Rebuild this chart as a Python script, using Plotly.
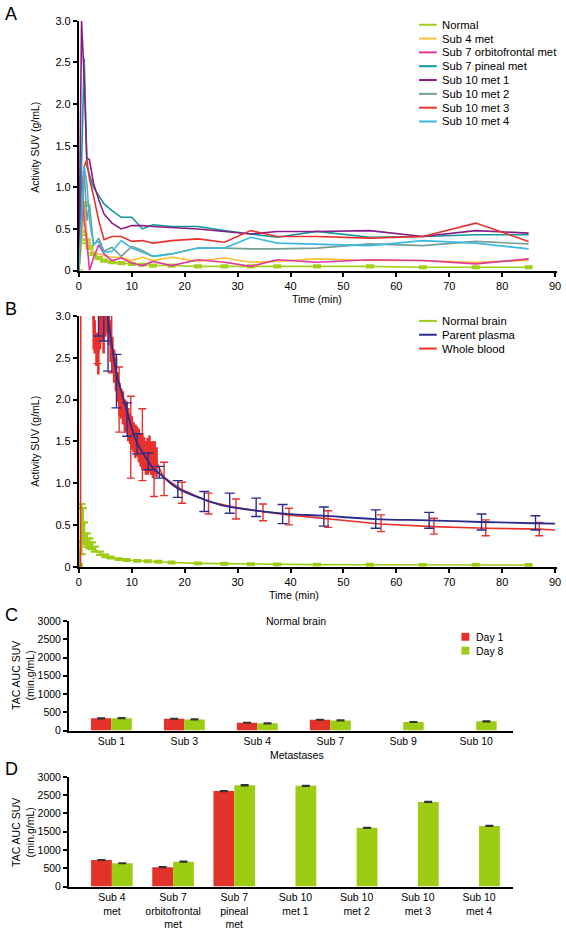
import plotly.graph_objects as go

W, H = 566, 934
FONT = "Liberation Sans, Arial, Helvetica, sans-serif"


def px(x):
    return x / W


def py(y):
    return 1 - y / H


# ---------------- Panel A data ----------------
t_a = [0, 0.5, 1, 1.5, 2, 2.75, 3.75, 4.75, 6.25, 8, 10, 12, 14, 17.5,
       22.5, 27.5, 32.5, 37.5, 45, 55, 65, 75, 85]
a_normal = [0, 0.45, 0.8, 0.35, 0.28, 0.2, 0.15, 0.12, 0.1, 0.09, 0.08, 0.07, 0.06, 0.06,
            0.05, 0.05, 0.05, 0.05, 0.05, 0.05, 0.04, 0.04, 0.04]
a_normal_err = [0, 0.02, 0.02, 0.02, 0.015, 0.01, 0.01, 0.01, 0.01, 0.01, 0.01, 0.01, 0.01, 0.01,
                0.01, 0.01, 0.01, 0.01, 0.01, 0.01, 0.01, 0.01, 0.01]
a_sub4 = [0, 0.3, 0.75, 0.45, 0.3, 0.22, 0.2, 0.18, 0.16, 0.16, 0.12, 0.16, 0.12, 0.16,
          0.11, 0.15, 0.10, 0.11, 0.14, 0.12, 0.12, 0.10, 0.12]
a_sub7_orb = [0, 1.2, 0.6, 0.35, 0.0, 0.15, 0.31, 0.2, 0.12, 0.15, 0.09, 0.06, 0.11, 0.06,
              0.13, 0.10, 0.05, 0.13, 0.10, 0.13, 0.12, 0.08, 0.14]
a_sub7_pin = [0, 1.2, 2.55, 1.25, 1.15, 1.0, 0.9, 0.8, 0.72, 0.64, 0.64, 0.5, 0.55, 0.53,
              0.53, 0.48, 0.44, 0.40, 0.47, 0.40, 0.41, 0.43, 0.43]
a_sub10_1 = [0, 3.0, 2.3, 1.35, 1.33, 1.05, 0.85, 0.68, 0.57, 0.5, 0.54, 0.54, 0.53, 0.52,
             0.5, 0.47, 0.44, 0.47, 0.47, 0.48, 0.41, 0.48, 0.45]
a_sub10_2 = [0, 0.5, 1.2, 0.6, 0.8, 0.3, 0.39, 0.23, 0.28, 0.17, 0.29, 0.24, 0.17, 0.2,
             0.27, 0.27, 0.26, 0.26, 0.27, 0.32, 0.30, 0.35, 0.32]
a_sub10_3 = [0, 0.6, 1.25, 1.33, 1.1, 0.9, 0.6, 0.37, 0.41, 0.41, 0.35, 0.36, 0.33, 0.36,
             0.38, 0.34, 0.48, 0.41, 0.41, 0.39, 0.41, 0.57, 0.35]
a_sub10_4 = [0, 0.65, 1.25, 1.05, 0.6, 0.32, 0.35, 0.22, 0.23, 0.36, 0.27, 0.22, 0.17, 0.2,
             0.27, 0.27, 0.40, 0.33, 0.32, 0.30, 0.36, 0.33, 0.26]
a_names = ["Normal", "Sub 4 met", "Sub 7 orbitofrontal met", "Sub 7 pineal met",
           "Sub 10 met 1", "Sub 10 met 2", "Sub 10 met 3", "Sub 10 met 4"]
a_colors = ["#a2d11c", "#fdbf3a", "#dd3a9c", "#12989b",
            "#8a1c86", "#739f8e", "#e8312d", "#3db8e0"]

# ---------------- Panel B data ----------------
b_norm_t = [0, 0.5, 0.75, 1, 1.5, 2, 2.5, 3, 4, 5, 6, 7.5, 9, 11, 13, 15, 17.5,
            22.5, 27.5, 32.5, 37.5, 45, 55, 65, 75, 85]
b_norm_v = [0.02, 0.45, 0.5, 0.4, 0.32, 0.28, 0.25, 0.21, 0.16, 0.13, 0.11, 0.09, 0.08,
            0.07, 0.065, 0.06, 0.05, 0.04, 0.035, 0.03, 0.027, 0.025, 0.024, 0.022, 0.022, 0.02]
b_norm_e = [0.01, 0.3, 0.2, 0.13, 0.08, 0.06, 0.04, 0.03, 0.02, 0.015, 0.012, 0.01, 0.01,
            0.01, 0.01, 0.01, 0.01, 0.01, 0.01, 0.01, 0.01, 0.01, 0.01, 0.01, 0.01, 0.01]

plasma_curve_t = [4.8, 5.4, 6, 7, 8, 9, 10, 11, 12, 13, 14, 15.5, 18.6, 23, 26.7, 30, 35,
                  40, 46, 56, 66, 76, 86, 90]
plasma_curve_v = [3.25, 3.0, 2.75, 2.34, 2.1, 1.88, 1.65, 1.48, 1.37, 1.27, 1.18, 1.10,
                  0.94, 0.82, 0.74, 0.70, 0.66, 0.63, 0.61, 0.57, 0.555, 0.535, 0.52, 0.515]
plasma_t = [3.7, 4.7, 5.5, 7.1, 9.1, 11.0, 13.1, 15.2, 18.7, 23.7, 28.5, 33.5, 38.5,
            46.3, 56.1, 66.2, 76.1, 86.3]
plasma_mean = [3.3, 3.2, 2.95, 2.22, 1.76, 1.47, 1.26, 1.13, 0.93, 0.78, 0.76, 0.71, 0.63,
               0.60, 0.57, 0.555, 0.535, 0.525]
plasma_err = [0.54, 0.5, 0.61, 0.32, 0.2, 0.12, 0.1, 0.07, 0.1, 0.12, 0.12, 0.11, 0.115,
              0.115, 0.11, 0.095, 0.095, 0.085]

blood_t = [0, 0.3, 0.5, 1, 2, 2.8, 3.0, 3.33, 3.67, 4.0, 4.33, 4.67, 5.0, 5.33, 5.67, 6.0, 6.33,
           6.67, 7.0, 7.33, 7.67, 8.0, 8.33, 8.67, 9.0, 9.33, 9.67, 10.0, 10.33, 10.67, 11.0,
           11.33, 11.67, 12.0, 12.33, 12.67, 13.0, 13.33, 13.67, 14.0, 14.33, 14.67,
           16, 19.5, 24.5, 29.5, 34.5, 39.5, 47, 57, 67, 77, 87, 90]
blood_v = [0, 0, 12, 8, 5, 2.8, 2.75, 2.6, 2.55, 2.8, 2.85, 2.75, 2.9, 2.95, 2.85, 2.7, 2.55,
           2.4, 2.3, 2.15, 2.0, 1.95, 1.9, 1.8, 1.8, 1.7, 1.65, 1.6, 1.55, 1.5, 1.5,
           1.45, 1.4, 1.38, 1.35, 1.3, 1.32, 1.35, 1.3, 1.28, 1.3, 1.25,
           1.07, 0.92, 0.78, 0.71, 0.66, 0.62, 0.57, 0.51, 0.48, 0.46, 0.45, 0.44]
blood_e = [0, 0, 0, 0, 0, 0.2, 0.2, 0.2, 0.25, 0.2, 0.15, 0.2, 0.15, 0.15, 0.2, 0.25, 0.2,
           0.2, 0.2, 0.18, 0.2, 0.18, 0.2, 0.2, 0.18, 0.2, 0.18, 0.2, 0.18, 0.2, 0.18,
           0.2, 0.2, 0.22, 0.2, 0.2, 0.22, 0.22, 0.2, 0.22, 0.2, 0.18,
           0, 0, 0, 0, 0, 0, 0, 0, 0, 0, 0, 0]
blood_s_t = [3.5, 6.2, 7.6, 9.8, 12.0, 14.2, 16.1, 19.5, 24.5, 29.7, 34.8, 39.7, 47.1,
             57.1, 67.1, 76.9, 87.0]
blood_s_v = [2.6, 2.9, 2.0, 1.55, 1.46, 1.05, 1.05, 0.885, 0.755, 0.69, 0.65, 0.60, 0.57,
             0.52, 0.485, 0.465, 0.45]
blood_s_e = [0.17, 0.58, 0.39, 0.49, 0.43, 0.21, 0.2, 0.125, 0.125, 0.12, 0.1, 0.1, 0.1,
             0.1, 0.095, 0.095, 0.08]

# ---------------- Panel C / D data ----------------
c_cats = ["Sub 1", "Sub 3", "Sub 4", "Sub 7", "Sub 9", "Sub 10"]
c_day1 = [335, 324, 216, 297, None, None]
c_day8 = [340, 306, 198, 279, 234, 252]
c_day1_err = [12, 8, 8, 8, 0, 0]
c_day8_err = [10, 10, 10, 10, 8, 12]

d_cats = ["Sub 4<br>met", "Sub 7<br>orbitofrontal<br>met", "Sub 7<br>pineal<br>met",
          "Sub 10<br>met 1", "Sub 10<br>met 2", "Sub 10<br>met 3", "Sub 10<br>met 4"]
d_day1 = [727, 530, 2613, None, None, None, None]
d_day8 = [638, 682, 2775, 2757, 1607, 2317, 1661]
d_day1_err = [10, 10, 10, 0, 0, 0, 0]
d_day8_err = [10, 12, 12, 12, 12, 10, 10]

RED = "#e3322a"
GREEN = "#9dcc14"
NAVY = "#2c2d8a"
BLOOD = "#e8312d"

fig = go.Figure()

# Panel A
for name, vals, col in zip(a_names, [a_normal, a_sub4, a_sub7_orb, a_sub7_pin, a_sub10_1,
                                     a_sub10_2, a_sub10_3, a_sub10_4], a_colors):
    kw = {}
    if name == "Normal":
        kw["error_y"] = dict(type="data", array=a_normal_err, color=col, thickness=2.5, width=4)
    fig.add_trace(go.Scatter(x=t_a, y=vals, mode="lines", name=name,
                             line=dict(color=col, width=1.6), xaxis="x", yaxis="y",
                             showlegend=False, **kw))

# Panel B
fig.add_trace(go.Scatter(x=b_norm_t, y=b_norm_v, mode="lines", line=dict(color=GREEN, width=1.6),
                         error_y=dict(type="data", array=b_norm_e, color=GREEN, thickness=2.2, width=4),
                         xaxis="x2", yaxis="y2", showlegend=False))
fig.add_trace(go.Scatter(x=blood_t, y=blood_v, mode="lines", line=dict(color=BLOOD, width=1.6),
                         error_y=dict(type="data", array=blood_e, color=BLOOD, thickness=2.6, width=0),
                         xaxis="x2", yaxis="y2", showlegend=False))
fig.add_trace(go.Scatter(x=blood_s_t, y=blood_s_v, mode="markers", marker=dict(size=1, color=BLOOD),
                         error_y=dict(type="data", array=blood_s_e, color=BLOOD, thickness=1.4, width=4),
                         xaxis="x2", yaxis="y2", showlegend=False))
fig.add_trace(go.Scatter(x=plasma_curve_t, y=plasma_curve_v, mode="lines",
                         line=dict(color=NAVY, width=1.8, shape="spline"),
                         xaxis="x2", yaxis="y2", showlegend=False))
fig.add_trace(go.Scatter(x=plasma_t, y=plasma_mean, mode="markers", marker=dict(size=1, color=NAVY),
                         error_y=dict(type="data", array=plasma_err, color=NAVY, thickness=1.4, width=5),
                         xaxis="x2", yaxis="y2", showlegend=False))

# Panel C
fig.add_trace(go.Bar(x=c_cats, y=c_day1, width=0.28, offset=-0.28, marker=dict(color=RED, line=dict(width=0)),
                     error_y=dict(type="data", array=c_day1_err, color="#333", thickness=1.5, width=4),
                     xaxis="x3", yaxis="y3", showlegend=False))
fig.add_trace(go.Bar(x=c_cats, y=c_day8, width=0.28, offset=0, marker=dict(color=GREEN, line=dict(width=0)),
                     error_y=dict(type="data", array=c_day8_err, color="#333", thickness=1.5, width=4),
                     xaxis="x3", yaxis="y3", showlegend=False))
# Panel D
fig.add_trace(go.Bar(x=d_cats, y=d_day1, width=0.34, offset=-0.34, marker=dict(color=RED, line=dict(width=0)),
                     error_y=dict(type="data", array=d_day1_err, color="#333", thickness=1.5, width=4),
                     xaxis="x4", yaxis="y4", showlegend=False))
fig.add_trace(go.Bar(x=d_cats, y=d_day8, width=0.34, offset=0, marker=dict(color=GREEN, line=dict(width=0)),
                     error_y=dict(type="data", array=d_day8_err, color="#333", thickness=1.5, width=4),
                     xaxis="x4", yaxis="y4", showlegend=False))

tickfont = dict(family=FONT, size=11, color="black")
tickfont_cd = dict(family=FONT, size=10.5, color="black")
common = dict(showgrid=False, zeroline=False, showline=True, linecolor="black", linewidth=2,
              ticks="outside", ticklen=4, tickwidth=1.5, tickcolor="black")

XMAX = 90.3
xdom_ab = [px(77), px(77 + XMAX * (483 / 90))]
xdom_cd = [px(67), px(517)]
y_ticks_ab = [0, 0.5, 1.0, 1.5, 2.0, 2.5, 3.0]
y_ticktext_ab = ["0", "0.5", "1.0", "1.5", "2.0", "2.5", "3.0"]
x_ticks_ab = [0, 10, 20, 30, 40, 50, 60, 70, 80, 90]

fig.update_layout(
    width=W, height=H, margin=dict(l=0, r=0, t=0, b=0),
    plot_bgcolor="white", paper_bgcolor="white",
    font=dict(family=FONT, size=11, color="black"),
    xaxis=dict(domain=xdom_ab, range=[0, XMAX], anchor="y", tickvals=x_ticks_ab,
               ticktext=[str(v) for v in x_ticks_ab], ticklabeloverflow="allow",
               tickfont=tickfont, **common),
    yaxis=dict(domain=[py(268), py(15)], range=[0, 3], anchor="x", tickvals=y_ticks_ab,
               ticktext=y_ticktext_ab, tickfont=tickfont, **common),
    xaxis2=dict(domain=xdom_ab, range=[0, XMAX], anchor="y2", tickvals=x_ticks_ab,
                ticktext=[str(v) for v in x_ticks_ab], ticklabeloverflow="allow",
                tickfont=tickfont, **common),
    yaxis2=dict(domain=[py(568), py(314)], range=[0, 3], anchor="x2", tickvals=y_ticks_ab,
                ticktext=y_ticktext_ab, tickfont=tickfont, **common),
    xaxis3=dict(domain=xdom_cd, range=[-0.58, 5.5], anchor="y3", type="category",
                tickfont=tickfont_cd, showgrid=False, zeroline=False, showline=True,
                linecolor="black", linewidth=2, ticks=""),
    yaxis3=dict(domain=[py(734), py(623)], range=[0, 3000], anchor="x3",
                tickvals=[0, 500, 1000, 1500, 2000, 2500, 3000], tickfont=tickfont_cd, **common),
    xaxis4=dict(domain=xdom_cd, range=[-0.7, 6.55], anchor="y4", type="category",
                tickfont=tickfont_cd, showgrid=False, zeroline=False, showline=True,
                linecolor="black", linewidth=2, ticks=""),
    yaxis4=dict(domain=[py(892), py(781)], range=[0, 3000], anchor="x4",
                tickvals=[0, 500, 1000, 1500, 2000, 2500, 3000], tickfont=tickfont_cd, **common),
)

shapes = []
annotations = []


def text(x, y, s, size=10.5, anchor="center", angle=0):
    annotations.append(dict(x=px(x), y=py(y), xref="paper", yref="paper", text=s, showarrow=False,
                            xanchor=anchor, yanchor="middle", textangle=angle,
                            font=dict(family=FONT, size=size, color="black")))


def legend_line(x0, x1, y, color, label, size):
    shapes.append(dict(type="line", xref="paper", yref="paper", x0=px(x0), x1=px(x1),
                       y0=py(y), y1=py(y), line=dict(color=color, width=2)))
    text(x1 + 3, y, label, size=size, anchor="left")


def legend_box(x0, y, color, label, size):
    shapes.append(dict(type="rect", xref="paper", yref="paper", x0=px(x0), x1=px(x0 + 8),
                       y0=py(y - 4), y1=py(y + 4), line=dict(width=0), fillcolor=color))
    text(x0 + 13, y, label, size=size, anchor="left")


# Legend A
for i, (name, col) in enumerate(zip(a_names, a_colors)):
    legend_line(422, 440, 19 + 14 * i, col, name, 11.3)
# Legend B
for i, (name, col) in enumerate(zip(["Normal brain", "Parent plasma", "Whole blood"],
                                    [GREEN, NAVY, BLOOD])):
    legend_line(422, 440, 319 + 14 * i, col, name, 11.3)
# Legend C
legend_box(465, 639, RED, "Day 1", 10.5)
legend_box(465, 653, GREEN, "Day 8", 10.5)

# Panel letters
text(0, 8, "A", size=18, anchor="left")
text(0, 307, "B", size=18, anchor="left")
text(0, 617, "C", size=18, anchor="left")
text(0, 773, "D", size=18, anchor="left")

# Axis titles
text(33, 143, "Activity SUV (g/mL)", size=10.5, angle=-90)
text(319, 297, "Time (min)", size=10.5)
text(33, 441, "Activity SUV (g/mL)", size=10.5, angle=-90)
text(295, 597, "Time (min)", size=10.5)
text(21, 678, "TAC AUC SUV<br>(min.g/mL)", size=10.5, angle=-90)
text(297, 623, "Normal brain", size=10.5)
text(298, 759, "Metastases", size=10.5)
text(21, 837, "TAC AUC SUV<br>(min.g/mL)", size=10.5, angle=-90)

fig.update_layout(shapes=shapes, annotations=annotations)

fig.write_html("out.html", config={"displayModeBar": False},
               post_script="document.body.style.margin='0';")
